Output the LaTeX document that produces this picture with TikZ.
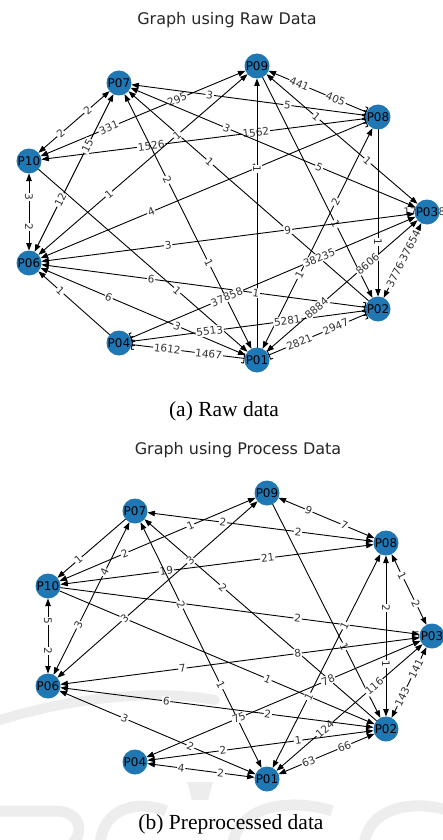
\documentclass[tikz,border=0pt]{standalone}
\usepackage{fontspec}
\setmainfont{Liberation Serif}
\newfontfamily\plotfont{DejaVu Sans}
\usetikzlibrary{arrows.meta,backgrounds}
\definecolor{nodeblue}{HTML}{1F77B4}
\definecolor{wmark}{HTML}{EDEDED}

\begin{document}
\begin{tikzpicture}[x=1pt,y=-1pt,
    pnode/.style={circle,fill=nodeblue,minimum size=25pt,inner sep=0pt,
      font=\plotfont\fontsize{12}{12}\selectfont},
    elbl/.style={fill=white,inner sep=0.8pt,text=black!80,
      font=\plotfont\fontsize{10.5}{10.5}\selectfont},
    link/.style={line width=0.9pt,shorten <=12.5pt,shorten >=12.5pt},
    ttl/.style={text=black!85,font=\plotfont\fontsize{16}{16}\selectfont},
    subcap/.style={font=\fontsize{21.5}{21.5}\selectfont},
    wstroke/.style={wmark,line width=11pt},
    tri/.tip={Triangle[length=7.5pt,width=5.5pt]},
    brk/.tip={Bracket[width=10pt,length=2.5pt]},
  ]
    \useasboundingbox (0,0) rectangle (443,840);

    % raw data graph
    \node[ttl] (ttlraw) at (227,20) {Graph using Raw Data};
    \node[pnode] (r09) at (257,66) {P09};
    \node[pnode] (r07) at (119,83) {P07};
    \node[pnode] (r08) at (378,117) {P08};
    \node[pnode] (r10) at (29,161) {P10};
    \node[pnode] (r03) at (427,212) {P03};
    \node[pnode] (r06) at (29,263) {P06};
    \node[pnode] (r02) at (378,309) {P02};
    \node[pnode] (r04) at (119,343) {P04};
    \node[pnode] (r01) at (257,360) {P01};
    \node[subcap] (capraw) at (224,411) {(a) Raw data};

    % processed data graph
    \node[ttl] (ttlproc) at (238,450) {Graph using Process Data};
    \node[pnode] (p09) at (267,493) {P09};
    \node[pnode] (p07) at (135,511) {P07};
    \node[pnode] (p08) at (386,543) {P08};
    \node[pnode] (p10) at (48,586) {P10};
    \node[pnode] (p03) at (432,636) {P03};
    \node[pnode] (p06) at (48,686) {P06};
    \node[pnode] (p02) at (386,729) {P02};
    \node[pnode] (p04) at (135,762) {P04};
    \node[pnode] (p01) at (267,779) {P01};
    \node[subcap] (capproc) at (231,824) {(b) Preprocessed data};

    \begin{scope}[on background layer]
    % watermark
    \draw[wstroke,line width=10pt,line cap=round] (-6,722) .. controls (60,700) and (150,688) .. (215,700);
    \fill[wmark] (187,782) -- (213,782) -- (208,800) -- (192,800) -- cycle;
    \draw[wstroke] (-6,811) -- (55,811) .. controls (80,811) and (86,832) .. (70,846);
    \draw[wstroke] (166,811) .. controls (140,800) and (102,806) .. (100,846);
    \draw[wstroke] (332,811) .. controls (300,800) and (240,800) .. (232,846);
    \draw[wstroke] (449,811) .. controls (420,800) and (368,804) .. (364,846);

    % raw edges
    \node[elbl] (r03a) at (410,212) {17};
    \node[elbl] (r03b) at (442,212) {8};
    \draw[link,{tri}-{tri}] (r10.center) -- node[elbl,sloped,pos=.35]{2} node[elbl,sloped,pos=.65]{2} (r07.center);
    \draw[link,{tri}-{tri}] (r10.center) -- node[elbl,sloped,pos=.35]{331} node[elbl,sloped,pos=.65]{295} (r09.center);
    \draw[link,{tri}-{brk}] (r10.center) -- node[elbl,sloped,pos=.35]{1526} node[elbl,sloped,pos=.65]{1562} (r08.center);
    \draw[link,{tri}-{tri}] (r10.center) -- node[elbl,sloped,pos=.35]{3} node[elbl,sloped,pos=.65]{2} (r06.center);
    \draw[link,-{tri}] (r10.center) -- node[elbl,sloped,pos=.65]{1} (r01.center);
    \draw[link,{tri}-{brk}] (r07.center) -- node[elbl,sloped,pos=.35]{3} node[elbl,sloped,pos=.65]{5} (r08.center);
    \draw[link,{tri}-{tri}] (r07.center) -- node[elbl,sloped,pos=.35]{3} node[elbl,sloped,pos=.65]{5} (r03.center);
    \draw[link,{tri}-{tri}] (r07.center) -- node[elbl,sloped,pos=.35]{2} node[elbl,sloped,pos=.65]{1} (r01.center);
    \draw[link,{tri}-{tri}] (r07.center) -- node[elbl,sloped,pos=.35]{15} node[elbl,sloped,pos=.65]{12} (r06.center);
    \draw[link,{tri}-] (r07.center) -- node[elbl,sloped,pos=.35]{1} (r02.center);
    \draw[link,{tri}-{brk}] (r09.center) -- node[elbl,sloped,pos=.35]{441} node[elbl,sloped,pos=.65]{405} (r08.center);
    \draw[link,{tri}-{tri}] (r09.center) -- node[elbl,sloped,pos=.35]{1} node[elbl,sloped,pos=.65]{1} (r03.center);
    \draw[link,{brk}-{tri}] (r08.center) -- node[elbl,sloped,pos=.35]{1} node[elbl,sloped,pos=.65]{4} (r06.center);
    \draw[link,{tri}-] (r09.center) -- node[elbl,sloped,pos=.35]{1} (r01.center);
    \draw[link,{tri}-{tri}] (r09.center) -- node[elbl,sloped,pos=.35]{1} node[elbl,sloped,pos=.65]{1} (r06.center);
    \draw[link,-{tri}] (r09.center) -- node[elbl,sloped,pos=.65]{1} (r02.center);
    \draw[link,{tri}-{tri}] (r08.center) -- node[elbl,sloped,pos=.35]{2} node[elbl,sloped,pos=.65]{1} (r01.center);
    \draw[link,-{tri}] (r08.center) -- node[elbl,sloped,pos=.65]{1} (r02.center);
    \draw[link,{tri}-{tri}] (r06.center) -- node[elbl,sloped,pos=.35]{3} node[elbl,sloped,pos=.65]{9} (r03.center);
    \draw[link,{tri}-{brk}] (r06.center) -- node[elbl,sloped,pos=.35]{6} node[elbl,sloped,pos=.65]{1} (r02.center);
    \draw[link,{tri}-{tri}] (r06.center) -- node[elbl,sloped,pos=.35]{6} node[elbl,sloped,pos=.65]{3} (r01.center);
    \draw[link,-{tri}] (r04.center) -- node[elbl,sloped,pos=.65]{1} (r06.center);
    \draw[link,{brk}-{brk}] (r04.center) -- node[elbl,sloped,pos=.35]{1612} node[elbl,sloped,pos=.65]{1467} (r01.center);
    \draw[link,{brk}-{brk}] (r04.center) -- node[elbl,sloped,pos=.35]{5513} node[elbl,sloped,pos=.65]{5281} (r02.center);
    \draw[link,{brk}-{tri}] (r04.center) -- node[elbl,sloped,pos=.35]{37858} node[elbl,sloped,pos=.65]{38235} (r03.center);
    \draw[link,{brk}-{brk}] (r01.center) -- node[elbl,sloped,pos=.35]{2821} node[elbl,sloped,pos=.65]{2947} (r02.center);
    \draw[link,{tri}-{tri}] (r01.center) -- node[elbl,sloped,pos=.35]{8884} node[elbl,sloped,pos=.65]{8606} (r03.center);
    \draw[link,{tri}-{tri}] (r02.center) -- node[elbl,sloped,pos=.35]{3776} node[elbl,sloped,pos=.65]{37654} (r03.center);

    % processed edges
    \node[elbl] (p03a) at (417,636) {5};
    \draw[link,{tri}-{tri}] (p10.center) -- node[elbl,sloped,pos=.35]{5} node[elbl,sloped,pos=.65]{2} (p06.center);
    \draw[link,-{tri}] (p07.center) -- node[elbl,sloped,pos=.65]{1} (p10.center);
    \draw[link,{tri}-{tri}] (p10.center) -- node[elbl,sloped,pos=.35]{2} node[elbl,sloped,pos=.65]{1} (p09.center);
    \draw[link,{tri}-{tri}] (p10.center) -- node[elbl,sloped,pos=.35]{19} node[elbl,sloped,pos=.65]{21} (p08.center);
    \draw[link,-{tri}] (p10.center) -- node[elbl,sloped,pos=.65]{1} (p02.center);
    \draw[link,-{tri}] (p10.center) -- node[elbl,sloped,pos=.65]{2} (p03.center);
    \draw[link,{tri}-{tri}] (p07.center) -- node[elbl,sloped,pos=.35]{2} node[elbl,sloped,pos=.65]{2} (p08.center);
    \draw[link,{tri}-{tri}] (p07.center) -- node[elbl,sloped,pos=.35]{4} node[elbl,sloped,pos=.65]{3} (p06.center);
    \draw[link,{tri}-{tri}] (p07.center) -- node[elbl,sloped,pos=.35]{2} node[elbl,sloped,pos=.65]{1} (p01.center);
    \draw[link,{tri}-] (p07.center) -- node[elbl,sloped,pos=.35]{2} (p02.center);
    \draw[link,{tri}-{tri}] (p09.center) -- node[elbl,sloped,pos=.35]{9} node[elbl,sloped,pos=.65]{7} (p08.center);
    \draw[link,-{tri}] (p09.center) -- node[elbl,sloped,pos=.65]{1} (p02.center);
    \draw[link,{tri}-{tri}] (p09.center) -- node[elbl,sloped,pos=.35]{3} node[elbl,sloped,pos=.65]{3} (p06.center);
    \draw[link,{tri}-{tri}] (p08.center) -- node[elbl,sloped,pos=.35]{1} node[elbl,sloped,pos=.65]{2} (p03.center);
    \draw[link,{tri}-{tri}] (p08.center) -- node[elbl,sloped,pos=.35]{2} node[elbl,sloped,pos=.65]{1} (p02.center);
    \draw[link,{tri}-{tri}] (p08.center) -- node[elbl,sloped,pos=.35]{1} node[elbl,sloped,pos=.65]{1} (p01.center);
    \draw[link,{tri}-{tri}] (p06.center) -- node[elbl,sloped,pos=.35]{7} node[elbl,sloped,pos=.65]{8} (p03.center);
    \draw[link,{tri}-{tri}] (p04.center) -- node[elbl,sloped,pos=.35]{75} node[elbl,sloped,pos=.65]{78} (p03.center);
    \draw[link,{tri}-{tri}] (p01.center) -- node[elbl,sloped,pos=.35]{124} node[elbl,sloped,pos=.65]{116} (p03.center);
    \draw[link,{tri}-{tri}] (p02.center) -- node[elbl,sloped,pos=.35]{143} node[elbl,sloped,pos=.65]{141} (p03.center);
    \draw[link,{tri}-{tri}] (p06.center) -- node[elbl,sloped,pos=.35]{6} node[elbl,sloped,pos=.65]{2} (p02.center);
    \draw[link,{tri}-{tri}] (p06.center) -- node[elbl,sloped,pos=.35]{3} node[elbl,sloped,pos=.65]{2} (p01.center);
    \draw[link,{tri}-{tri}] (p04.center) -- node[elbl,sloped,pos=.35]{2} node[elbl,sloped,pos=.65]{1} (p02.center);
    \draw[link,{tri}-{tri}] (p04.center) -- node[elbl,sloped,pos=.35]{4} node[elbl,sloped,pos=.65]{2} (p01.center);
    \draw[link,{tri}-{tri}] (p01.center) -- node[elbl,sloped,pos=.35]{63} node[elbl,sloped,pos=.65]{66} (p02.center);
    \end{scope}
\end{tikzpicture}
\end{document}
